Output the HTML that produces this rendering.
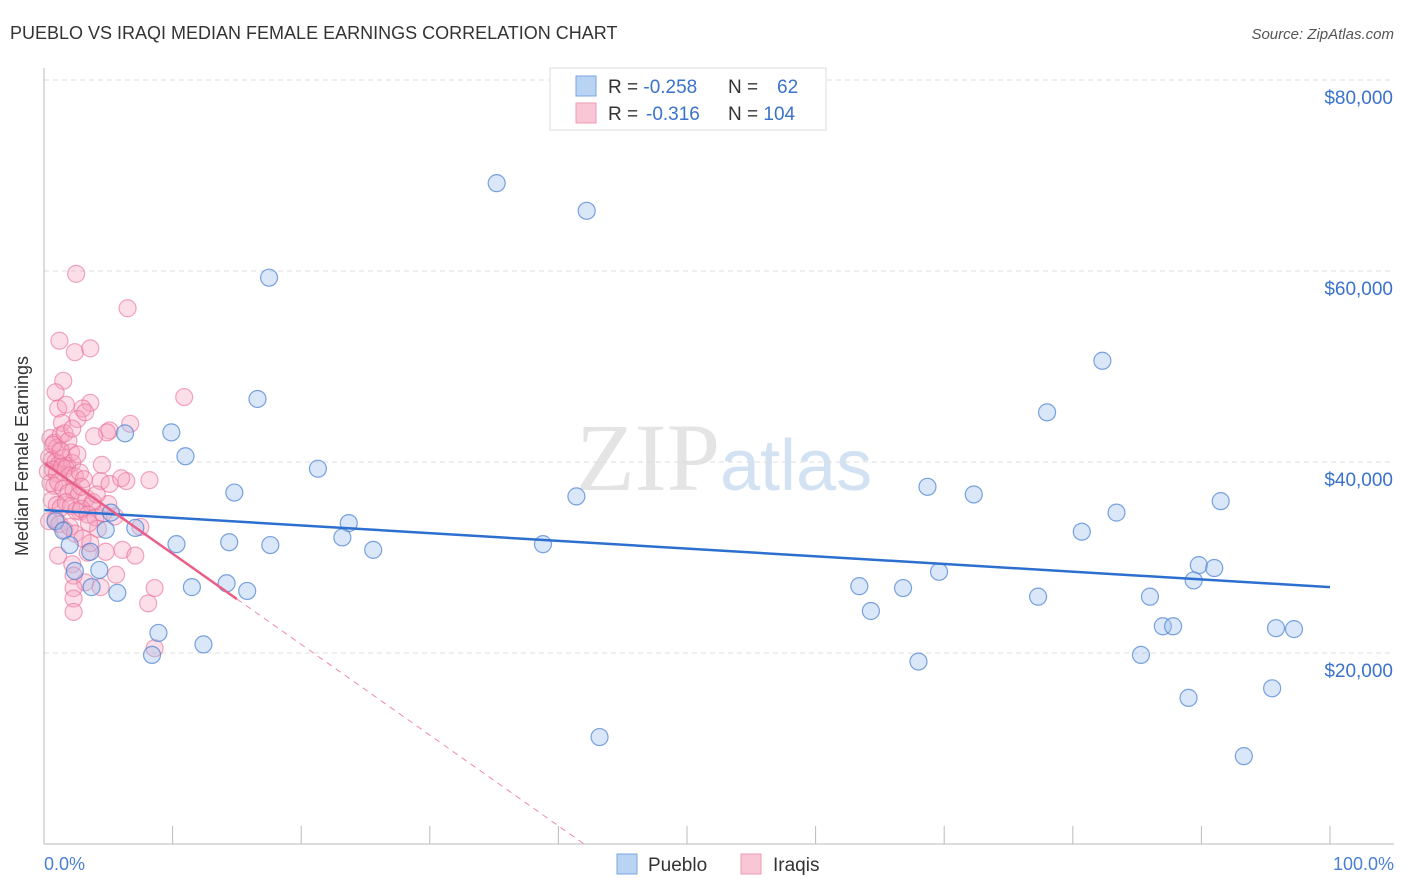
<!DOCTYPE html>
<html><head><meta charset="utf-8"><style>
body{margin:0;background:#fff;font-family:"Liberation Sans",sans-serif;}
svg{display:block}
</style></head><body>
<svg id="chart" width="1406" height="892">
<text x="10" y="39" font-size="18" fill="#333">PUEBLO VS IRAQI MEDIAN FEMALE EARNINGS CORRELATION CHART</text>
<text x="1394" y="39" font-size="15" fill="#555" font-style="italic" text-anchor="end">Source: ZipAtlas.com</text>
<text x="720" y="490" font-size="96" fill="#e4e4e4" text-anchor="end" font-family="Liberation Serif,serif">ZIP</text>
<text x="720" y="490" font-size="72" fill="#d3e2f2">atlas</text>
<g id="grid"></g><g id="marks"></g>
<line x1="44" y1="68" x2="44" y2="844" stroke="#bbb"/>
<line x1="44" y1="844" x2="1394" y2="844" stroke="#bbb"/>
<text x="28" y="456" font-size="18" fill="#333" text-anchor="middle" transform="rotate(-90 28 456)">Median Female Earnings</text>
<text x="44" y="870" font-size="18" fill="#4a7fd4">0.0%</text>
<text x="1394" y="870" font-size="18" fill="#4a7fd4" text-anchor="end">100.0%</text>
<g>
<rect x="550" y="68" width="276" height="62" fill="#fff" stroke="#ddd"/>
<rect x="576" y="76" width="20" height="20" fill="#b9d3f3" stroke="#7aa6e0"/>
<rect x="576" y="103" width="20" height="20" fill="#f9c6d5" stroke="#ee9ab3"/>
<text x="608" y="93" font-size="19" fill="#333">R = <tspan fill="#3a72cc">-0.258</tspan></text>
<text x="728" y="93" font-size="19" fill="#333">N = <tspan fill="#3a72cc" x="777">62</tspan></text>
<text x="608" y="120" font-size="19" fill="#333">R = <tspan fill="#3a72cc" x="646">-0.316</tspan></text>
<text x="728" y="120" font-size="19" fill="#333">N = <tspan fill="#3a72cc">104</tspan></text>
</g>
<g>
<rect x="617" y="854" width="20" height="20" fill="#b9d3f3" stroke="#7aa6e0"/>
<text x="648" y="871" font-size="19" fill="#333">Pueblo</text>
<rect x="741" y="854" width="20" height="20" fill="#f9c6d5" stroke="#ee9ab3"/>
<text x="773" y="871" font-size="19" fill="#333">Iraqis</text>
</g>
</svg>
<script>
const yTicks=[20000,40000,60000,80000];
const yTickLabels=["$20,000","$40,000","$60,000","$80,000"];
const xTicks=[0,10,20,30,40,50,60,70,80,90,100];
const puebloX=[35.2,42.2,17.5,82.3,16.6,78.0,6.3,9.9,11.0,21.3,14.8,41.4,68.7,72.3,91.5,83.4,5.2,0.9,7.1,23.7,1.5,4.8,23.2,80.7,2.0,10.3,14.4,17.6,25.6,38.8,3.6,89.8,91.0,4.3,2.4,69.6,89.4,14.2,3.7,11.5,63.4,66.8,5.7,15.8,77.3,86.0,64.3,87.0,87.8,95.8,97.2,8.9,12.4,8.4,85.3,68.0,95.5,89.0,43.2,93.3];
const puebloY=[69.2,66.3,59.3,50.6,46.6,45.2,43.0,43.1,40.6,39.3,36.8,36.4,37.4,36.6,35.9,34.7,34.7,33.8,33.1,33.6,32.8,32.9,32.1,32.7,31.3,31.4,31.6,31.3,30.8,31.4,30.6,29.2,28.9,28.7,28.6,28.5,27.6,27.3,26.9,26.9,27.0,26.8,26.3,26.5,25.9,25.9,24.4,22.8,22.8,22.6,22.5,22.1,20.9,19.8,19.8,19.1,16.3,15.3,11.2,9.2];
const iraqiX=[2.5,6.5,1.2,2.4,3.6,1.5,0.9,3.6,10.9,1.1,3.0,1.4,6.7,5.1,8.2,4.4,5.1,6.4,7.5,1.1,3.4,4.8,6.1,7.1,2.2,2.3,5.6,3.2,2.3,4.4,8.6,8.1,2.3,2.3,8.6,4.9,2.8,3.7,
0.5,0.8,1.0,1.3,1.6,1.9,2.1,0.4,0.6,0.9,1.2,1.5,1.8,2.2,2.6,0.3,0.7,1.0,1.4,1.7,2.0,2.4,2.8,3.1,0.5,0.8,1.1,1.5,1.9,2.3,2.7,3.3,3.8,0.6,1.0,1.3,1.7,2.1,2.5,2.9,3.4,4.0,4.6,0.4,0.9,1.2,1.6,2.0,2.4,3.0,3.6,4.2,5.0,5.5,2.6,3.2,1.7,0.7,1.3,2.2,3.9,4.5,6.0,2.9,4.1,3.5];
const iraqiY=[59.7,56.1,52.7,51.5,51.9,48.5,47.3,46.2,46.8,45.6,45.6,44.1,44.0,43.3,38.1,38.0,37.7,38.0,33.2,30.2,30.5,30.6,30.8,30.2,29.3,28.1,28.2,27.4,26.8,26.9,26.8,25.2,25.7,24.3,20.5,43.1,34.8,35.5,
42.5,42.0,41.5,42.8,43.0,42.2,41.0,40.5,40.2,40.0,39.8,40.4,39.6,39.9,40.8,39.0,39.2,38.8,39.5,39.3,38.6,38.5,38.9,38.2,37.8,37.5,37.9,37.2,36.8,37.0,36.5,36.2,35.8,36.0,35.5,35.2,35.8,35.4,34.9,35.1,34.5,34.2,34.6,33.8,34.0,33.5,32.9,33.2,32.5,32.0,31.5,33.0,35.6,34.3,44.5,45.2,46.0,41.8,41.2,43.5,42.7,39.7,38.3,37.4,36.6,33.6];
const puebloTrend=[34.97,26.9];
const iraqiTrend=[39.9,-0.95];
const NS='http://www.w3.org/2000/svg';
const xs=p=>44+p*12.86;
const ys=v=>653-(v-20000)*191/20000;
const grid=document.getElementById('grid'),marks=document.getElementById('marks');
function mk(tag,attrs,parent){const e=document.createElementNS(NS,tag);for(const k in attrs)e.setAttribute(k,attrs[k]);parent.appendChild(e);return e;}
yTicks.forEach((t,i)=>{
 const l=mk('line',{x1:44,x2:1394,y1:ys(t),y2:ys(t),stroke:'#ddd','stroke-dasharray':'5,4'},grid);
 
 
 const tx=mk('text',{x:1393,y:ys(t)+24,'font-size':19,fill:'#3a72cc','text-anchor':'end'},grid);
 tx.textContent=yTickLabels[i];
 
 
});
xTicks.forEach(t=>{
 const l=mk('line',{x1:xs(t),x2:xs(t),y1:826,y2:844,stroke:'#bbb'},grid);
 
 
});
iraqiX.forEach((p,i)=>{
 const c=mk('circle',{cx:xs(p),cy:ys(iraqiY[i]*1000),r:8.5,fill:'rgba(245,160,190,0.35)',stroke:'rgba(232,110,150,0.6)','stroke-width':1.2},marks);
 
 
});
puebloX.forEach((p,i)=>{
 const c=mk('circle',{cx:xs(p),cy:ys(puebloY[i]*1000),r:8.5,fill:'rgba(160,195,240,0.4)',stroke:'rgba(70,125,210,0.7)','stroke-width':1.2},marks);
 
 
});
const bt=mk('line',{x1:xs(0),y1:ys(puebloTrend[0]*1000),x2:xs(100),y2:ys(puebloTrend[1]*1000),stroke:'#2d6fd0','stroke-width':2.5},marks);


const iv=p=>(iraqiTrend[0]+iraqiTrend[1]*p)*1000;
const pEnd=-iraqiTrend[0]/iraqiTrend[1];
const pd=mk('line',{x1:xs(15),y1:ys(iv(15)),x2:xs(pEnd),y2:ys(iv(pEnd)),stroke:'#ee8aa8','stroke-width':1,'stroke-dasharray':'6,5'},marks);


const pt=mk('line',{x1:xs(0),y1:ys(iv(0)),x2:xs(15),y2:ys(iv(15)),stroke:'#e8608a','stroke-width':2.5},marks);


</script>
</body></html>
